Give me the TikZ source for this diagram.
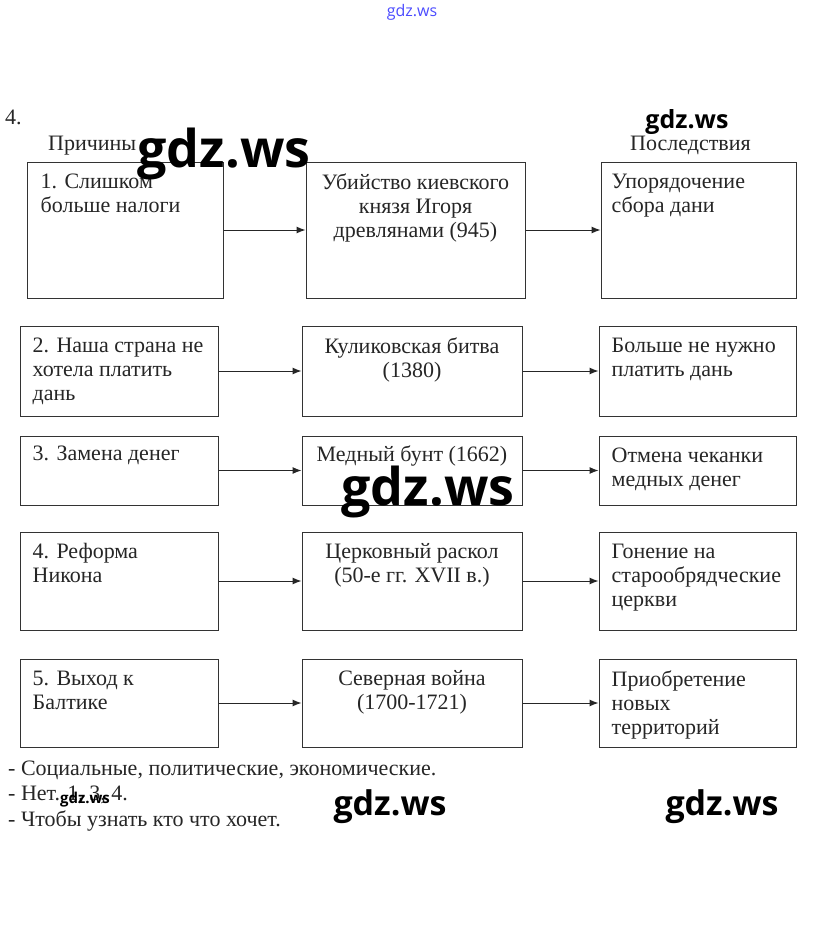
\documentclass[tikz,border=0pt]{standalone}
\usepackage{fontspec}
\setmainfont{Liberation Serif}
\newfontfamily\wmfont{Open Sans}
\usetikzlibrary{arrows.meta}
\begin{document}
\begin{tikzpicture}[x=1pt,y=-1pt]
		\tikzstyle{box}=[rectangle,draw=black!80,line width=1pt,inner sep=0pt]
		\tikzstyle{txt}=[inner sep=0pt,font=\fontsize{22}{24}\selectfont,text=black!85]
		\tikzstyle{left}=[txt,anchor=north west,align=left]
		\tikzstyle{mid}=[txt,anchor=north,align=center]
		\tikzstyle{arrow}=[draw=black!85,line width=1pt,-{Latex[length=9pt,width=7pt]}]
		\tikzstyle{wm}=[inner sep=0pt,anchor=base,font=\wmfont\bfseries]

		\useasboundingbox[fill=white] (0,0) rectangle (823,937);

		% headings
		\node [txt,anchor=base west] (num) at (5,124) {4.};
		\node [txt,anchor=base west] (causes) at (48,150) {Причины};
		\node [txt,anchor=base west] (effects) at (630,150) {Последствия};

		% row 1
		\node [box,minimum width=196pt,minimum height=136pt] (a1) at (125,230) {};
		\node [box,minimum width=219pt,minimum height=136pt] (b1) at (415.5,230) {};
		\node [box,minimum width=195pt,minimum height=136pt] (c1) at (698.5,230) {};
		\node [left] (ta1) at ([shift={(14,12)}]a1.north west) {1. Слишком\\больше налоги};
		\node [mid] (tb1) at ([shift={(0,12)}]b1.north) {Убийство киевского\\князя Игоря\\древлянами (945)};
		\node [left] (tc1) at ([shift={(11,12)}]c1.north west) {Упорядочение\\сбора дани};

		% row 2
		\node [box,minimum width=198pt,minimum height=90pt] (a2) at (119,371) {};
		\node [box,minimum width=220pt,minimum height=90pt] (b2) at (412,371) {};
		\node [box,minimum width=197pt,minimum height=90pt] (c2) at (697.5,371) {};
		\node [left] (ta2) at ([shift={(13,12)}]a2.north west) {2. Наша страна не\\хотела платить\\дань};
		\node [mid] (tb2) at ([shift={(0,12)}]b2.north) {Куликовская битва\\(1380)};
		\node [left] (tc2) at ([shift={(13,12)}]c2.north west) {Больше не нужно\\платить дань};

		% row 3
		\node [box,minimum width=198pt,minimum height=69pt] (a3) at (119,470.5) {};
		\node [box,minimum width=220pt,minimum height=69pt] (b3) at (412,470.5) {};
		\node [box,minimum width=197pt,minimum height=69pt] (c3) at (697.5,470.5) {};
		\node [left] (ta3) at ([shift={(13,10)}]a3.north west) {3. Замена денег};
		\node [mid] (tb3) at ([shift={(0,10)}]b3.north) {Медный бунт (1662)};
		\node [left] (tc3) at ([shift={(13,12)}]c3.north west) {Отмена чеканки\\медных денег};

		% row 4
		\node [box,minimum width=198pt,minimum height=98pt] (a4) at (119,581) {};
		\node [box,minimum width=220pt,minimum height=98pt] (b4) at (412,581) {};
		\node [box,minimum width=197pt,minimum height=98pt] (c4) at (697.5,581) {};
		\node [left] (ta4) at ([shift={(13,12)}]a4.north west) {4. Реформа\\Никона};
		\node [mid] (tb4) at ([shift={(0,12)}]b4.north) {Церковный раскол\\(50-е гг. XVII в.)};
		\node [left] (tc4) at ([shift={(13,12)}]c4.north west) {Гонение на\\старообрядческие\\церкви};

		% row 5
		\node [box,minimum width=198pt,minimum height=88pt] (a5) at (119,703) {};
		\node [box,minimum width=220pt,minimum height=88pt] (b5) at (412,703) {};
		\node [box,minimum width=197pt,minimum height=88pt] (c5) at (697.5,703) {};
		\node [left] (ta5) at ([shift={(13,12)}]a5.north west) {5. Выход к\\Балтике};
		\node [mid] (tb5) at ([shift={(0,12)}]b5.north) {Северная война\\(1700-1721)};
		\node [left] (tc5) at ([shift={(13,12)}]c5.north west) {Приобретение\\новых\\территорий};

		\foreach \r in {1,...,5} {
			\path[arrow] (a\r) -- (b\r);
			\path[arrow] (b\r) -- (c\r);
		}

		% answers
		\node [txt,anchor=base west] (ans1) at (8,775) {- Социальные, политические, экономические.};
		\node [txt,anchor=base west] (ans2) at (8,800) {- Нет. 1, 3, 4.};
		\node [txt,anchor=base west] (ans3) at (8,826) {- Чтобы узнать кто что хочет.};

		% watermarks
		\node [wm,font=\wmfont\fontsize{16}{16}\selectfont,text=blue!70] (wm0) at (412,16) {gdz.ws};
		\node [wm,font=\wmfont\bfseries\fontsize{52}{52}\selectfont] (wm1) at (224,167) {gdz.ws};
		\node [wm,font=\wmfont\bfseries\fontsize{25}{25}\selectfont] (wm2) at (687,128) {gdz.ws};
		\node [wm,font=\wmfont\bfseries\fontsize{52}{52}\selectfont] (wm3) at (428,505) {gdz.ws};
		\node [wm,font=\wmfont\bfseries\fontsize{15}{15}\selectfont] (wm4) at (85,803) {gdz.ws};
		\node [wm,font=\wmfont\bfseries\fontsize{34}{34}\selectfont] (wm5) at (390,815) {gdz.ws};
		\node [wm,font=\wmfont\bfseries\fontsize{34}{34}\selectfont] (wm6) at (722,815) {gdz.ws};
\end{tikzpicture}
\end{document}
